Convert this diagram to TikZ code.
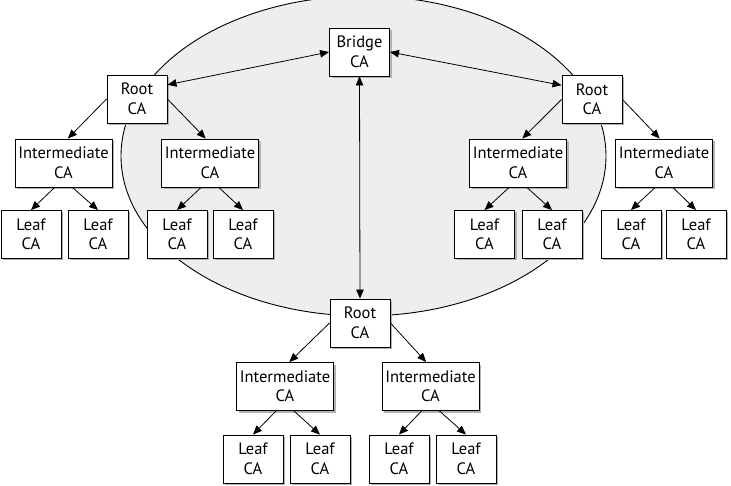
\documentclass[tikz,border=0pt]{standalone}
\usepackage{fontspec}
\setmainfont{PT Sans}
\usetikzlibrary{arrows.meta,shadows}
\definecolor{trustgray}{RGB}{238,238,240}
\tikzset{
  ca/.style={draw, fill=white, line width=0.9pt, minimum width=60pt, minimum height=48pt,
    inner sep=0pt, align=center, font=\fontsize{16.5}{19.5}\selectfont,
    drop shadow={shadow xshift=2pt, shadow yshift=-2pt, fill=black!30, opacity=1}},
  midca/.style={ca, minimum width=97pt},
  link/.style={-{Triangle[length=9pt,width=7.5pt]}, line width=0.8pt},
  crosslink/.style={{Triangle[length=9pt,width=7.5pt]}-{Triangle[length=9pt,width=7.5pt]}, line width=0.8pt}
}
\begin{document}
\begin{tikzpicture}[x=1pt, y=-1pt]
    \useasboundingbox (0,0) rectangle (731,486);

    % Trust area
    \filldraw[fill=trustgray, line width=0.9pt] (363.5,156) ellipse [x radius=242.5, y radius=160];

    % Bridge and root CAs
    \node[ca] (bridge) at (359.5,52) {Bridge\\CA};
    \node[ca] (rootL) at (137,99) {Root\\CA};
    \node[ca] (rootR) at (592,99.5) {Root\\CA};
    \node[ca] (rootB) at (360,323) {Root\\CA};

    % Left tree
    \node[midca] (intL1) at (63.5,163) {Intermediate\\CA};
    \node[midca] (intL2) at (210,163) {Intermediate\\CA};
    \node[ca] (leafL1) at (31,234.5) {Leaf\\CA};
    \node[ca] (leafL2) at (98,234.5) {Leaf\\CA};
    \node[ca] (leafL3) at (177,234.5) {Leaf\\CA};
    \node[ca] (leafL4) at (243,234.5) {Leaf\\CA};

    % Right tree
    \node[midca] (intR1) at (518,163) {Intermediate\\CA};
    \node[midca] (intR2) at (664,163) {Intermediate\\CA};
    \node[ca] (leafR1) at (484.5,234.5) {Leaf\\CA};
    \node[ca] (leafR2) at (552,234.5) {Leaf\\CA};
    \node[ca] (leafR3) at (631,234.5) {Leaf\\CA};
    \node[ca] (leafR4) at (696,234.5) {Leaf\\CA};

    % Bottom tree
    \node[midca] (intB1) at (285,386.5) {Intermediate\\CA};
    \node[midca] (intB2) at (430.5,386.5) {Intermediate\\CA};
    \node[ca] (leafB1) at (253,459) {Leaf\\CA};
    \node[ca] (leafB2) at (320,459) {Leaf\\CA};
    \node[ca] (leafB3) at (399,459) {Leaf\\CA};
    \node[ca] (leafB4) at (466,459) {Leaf\\CA};

    % Cross links through the bridge
    \draw[crosslink] (bridge.west) -- (rootL.25);
    \draw[crosslink] (bridge.east) -- (rootR.155);
    \draw[crosslink] (bridge.south) -- (rootB.north);

    % Root to intermediate
    \foreach \r/\a/\b in {rootL/intL1/intL2, rootR/intR1/intR2, rootB/intB1/intB2} {
        \draw[link] (\r.west) -- (\a.80);
        \draw[link] (\r.east) -- (\b.100);
    }

    % Intermediate to leaf
    \foreach \i/\a/\b in {intL1/leafL1/leafL2, intL2/leafL3/leafL4, intR1/leafR1/leafR2,
                          intR2/leafR3/leafR4, intB1/leafB1/leafB2, intB2/leafB3/leafB4} {
        \draw[link] (\i.-110) -- (\a.north);
        \draw[link] (\i.-70) -- (\b.north);
    }
\end{tikzpicture}
\end{document}
